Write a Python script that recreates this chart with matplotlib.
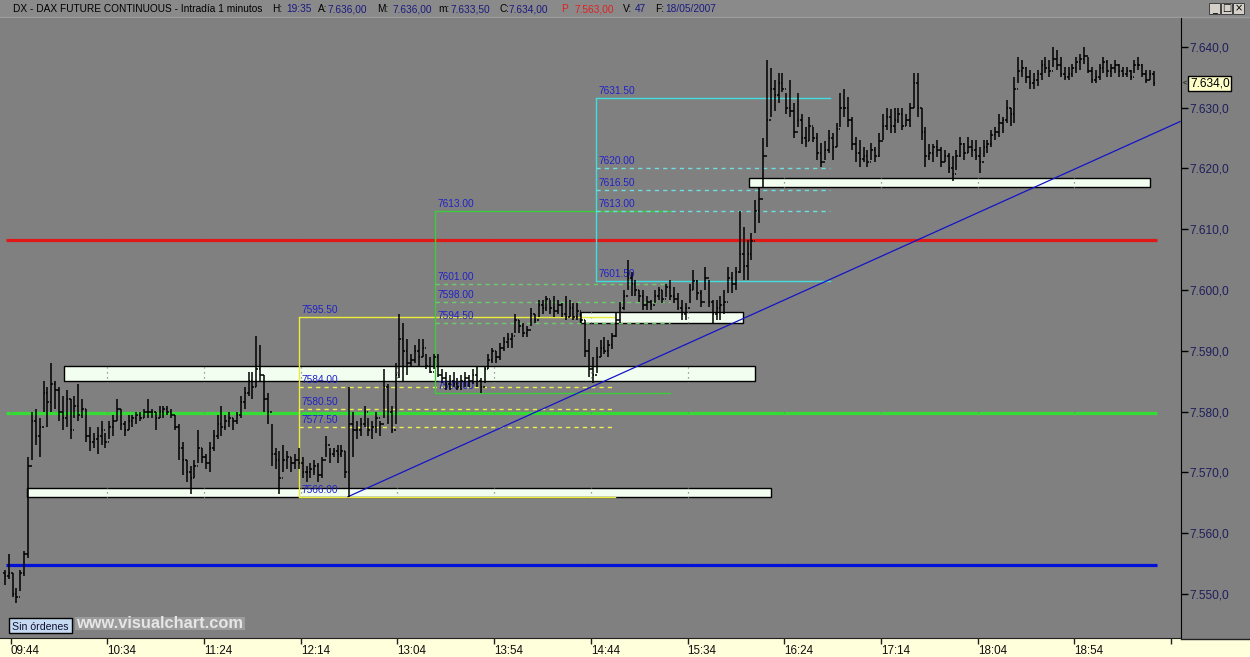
import matplotlib
matplotlib.use("Agg")
import matplotlib.pyplot as plt
from matplotlib.collections import LineCollection
from matplotlib.patches import Rectangle
from matplotlib.lines import Line2D

plt.rcParams['font.family'] = ['Liberation Sans', 'DejaVu Sans']

# ------------------------------------------------------------------ data
time_tick_minutes = [0, 50, 100, 150, 200, 250, 300, 350, 400, 450, 500, 550, 600]
time_tick_labels = ['09:44', '10:34', '11:24', '12:14', '13:04', '13:54', '14:44',
                    '15:34', '16:24', '17:14', '18:04', '18:54', '']
price_ticks = [7550, 7560, 7570, 7580, 7590, 7600, 7610, 7620, 7630, 7640]

first_bar_minute = -3      # minutes after 09:44
bar_step_minutes = 2
first_open = 7553.5

highs = [
    7554, 7556.5, 7553.5, 7551, 7554, 7557, 7572.5, 7580, 7580.5, 7579,
    7585, 7584, 7588, 7585, 7584, 7582.5, 7583.5, 7582, 7582.5, 7584.5,
    7582, 7580.5, 7577.5, 7576.5, 7577.5, 7578.5, 7576.5, 7578.5, 7579.5, 7582,
    7580.5, 7578.5, 7579.5, 7579.5, 7580, 7580, 7580.5, 7582, 7580.5, 7580,
    7581, 7581, 7581, 7580.5, 7579.5, 7578, 7575, 7572, 7571, 7572,
    7577, 7574, 7573, 7575, 7577, 7579.5, 7581, 7579.5, 7580, 7579,
    7580, 7582.5, 7584, 7586.5, 7586.5, 7592.5, 7591, 7586, 7583, 7578,
    7574, 7573.5, 7574.5, 7573.5, 7572.5, 7573, 7574, 7572.5, 7571, 7571.5,
    7572, 7571.5, 7572.5, 7576, 7574, 7574, 7574.5, 7574.5, 7573.5, 7584,
    7580, 7578.5, 7579, 7581, 7579, 7578.5, 7580, 7578.5, 7587, 7584.5,
    7581, 7588, 7596, 7594.5, 7592, 7589.5, 7591, 7592, 7592, 7589.5,
    7589, 7589.5, 7589.5, 7587, 7586.5, 7586, 7586.5, 7585.5, 7586, 7586.5,
    7586, 7587, 7587.5, 7585.5, 7587.5, 7589.5, 7590.5, 7590, 7591.3, 7592.3,
    7593, 7593, 7596, 7595, 7594.5, 7594, 7597, 7596, 7598.3, 7598.3,
    7599, 7598.3, 7599, 7598.3, 7597.8, 7599, 7598.3, 7597.8, 7597.8, 7596.2,
    7595, 7592, 7589, 7590.6, 7591.8, 7592.3, 7591.8, 7593, 7596.2, 7598,
    7600, 7605, 7603, 7601.6, 7600, 7600, 7599, 7598.3, 7600, 7600.5,
    7600, 7601, 7601.6, 7600.5, 7599.5, 7598.3, 7597.8, 7601, 7603.3, 7601.6,
    7600, 7603.8, 7601.6, 7598.3, 7598.3, 7599, 7600, 7603.8, 7603, 7603.8,
    7613, 7610.4, 7608.2, 7609.4, 7614.8, 7617, 7625, 7637.8, 7636.5, 7634.5,
    7635.7, 7635.7, 7632.4, 7634.5, 7630.7, 7632.4, 7629, 7626.8, 7628.5, 7626.8,
    7625.8, 7624.2, 7624.5, 7626.3, 7625.8, 7627.5, 7632.4, 7633, 7631.8, 7628.5,
    7625.2, 7624.7, 7623.5, 7623, 7624.2, 7623.5, 7625.8, 7629, 7630, 7629.7,
    7630, 7630, 7630, 7629, 7630.7, 7635.7, 7635.7, 7630, 7626.8, 7624,
    7624, 7624.7, 7623.5, 7623, 7622.5, 7622, 7623, 7625.2, 7624.2, 7625.2,
    7624.7, 7624.7, 7623.5, 7624.7, 7624.7, 7626.3, 7626.8, 7629, 7628.5, 7631.2,
    7630, 7635, 7638.3, 7637.8, 7636.7, 7636.2, 7635.7, 7636.2, 7637.8, 7638.3,
    7637.8, 7640, 7639.5, 7638.3, 7636.7, 7636.7, 7637.2, 7638.3, 7638.9, 7640,
    7638.3, 7636.7, 7636.2, 7637.2, 7638.3, 7637.8, 7637.2, 7637.8, 7637.2, 7636.7,
    7636.7, 7636.2, 7637.8, 7638.3, 7637.2, 7636.2, 7636.2, 7636,
]
lows = [
    7551.5, 7552.5, 7549.5, 7548.5, 7550.5, 7553, 7556, 7572, 7574.5, 7572.5,
    7580, 7577.5, 7580, 7580.5, 7578.5, 7577, 7577.5, 7575.5, 7579, 7578.5,
    7579, 7575, 7573.5, 7574, 7573, 7574.5, 7574, 7575.5, 7576, 7578.5,
    7577, 7576, 7577, 7577.5, 7578, 7578.5, 7579, 7579, 7579, 7577,
    7579, 7579, 7579.5, 7579, 7577, 7572, 7569.5, 7568.5, 7566.5, 7569,
    7571.5, 7571.5, 7570.5, 7570, 7573.5, 7575.5, 7576, 7577, 7577.5, 7577,
    7578, 7579, 7580.5, 7582.5, 7582, 7584, 7585, 7580, 7578, 7571,
    7570.5, 7566.5, 7570, 7570.5, 7570, 7570.5, 7570.5, 7569, 7568.5, 7569,
    7569.5, 7568.5, 7569, 7572.5, 7571.5, 7572.5, 7571.5, 7572.5, 7569, 7566,
    7572.5, 7575.5, 7576, 7577.5, 7576, 7575.5, 7576.5, 7576, 7579, 7578,
    7576.5, 7578, 7585.5, 7585, 7586, 7587.5, 7588, 7587.5, 7589, 7587,
    7586.3, 7587, 7585.7, 7584.7, 7583.5, 7583.5, 7584, 7583.5, 7583.5, 7584,
    7584, 7584.5, 7584, 7583, 7584.7, 7587, 7588, 7588, 7588.5, 7590,
    7590.5, 7590.5, 7593, 7593, 7592.3, 7592.3, 7594, 7594.5, 7595.5, 7596,
    7596.5, 7596, 7595.5, 7596, 7595.5, 7595, 7595.5, 7595, 7595, 7594.6,
    7589, 7585.7, 7584.7, 7586.4, 7589, 7589.5, 7589, 7590.3, 7592.3, 7594.6,
    7596.7, 7600, 7599, 7599, 7598, 7596.7, 7596.7, 7596.7, 7597.8, 7598.3,
    7597.8, 7598.8, 7598.3, 7597.8, 7596.7, 7595, 7595, 7597.8, 7600, 7598.3,
    7597.2, 7600, 7597.2, 7594.6, 7595, 7595, 7596, 7599.5, 7599.5, 7600,
    7602.8, 7601.6, 7601.6, 7605, 7609.4, 7611, 7617, 7623.5, 7628.5, 7629.5,
    7630.7, 7632.5, 7629, 7628.5, 7625, 7626.8, 7624, 7623.5, 7624.5, 7624.3,
    7621.4, 7620.2, 7621.4, 7622.5, 7621.4, 7623.5, 7626.8, 7628.5, 7626.8, 7623,
    7621, 7620.2, 7621, 7620.2, 7621.4, 7621, 7621.9, 7624.7, 7626.3, 7625.8,
    7625.8, 7627.5, 7626.3, 7627, 7626.8, 7630, 7628.5, 7624.7, 7620.2, 7621.4,
    7621, 7621.9, 7620.2, 7621, 7619.2, 7618, 7619.7, 7621.9, 7621.4, 7622.5,
    7621.9, 7621.4, 7619.2, 7621.9, 7622.5, 7623.5, 7624.7, 7625.2, 7625.8, 7627.5,
    7627, 7627.5, 7634, 7635, 7634, 7633, 7633, 7633.5, 7634.5, 7635.7,
    7635, 7636.7, 7636.2, 7635, 7634.5, 7634.5, 7635, 7635.7, 7636.2, 7637.2,
    7635.7, 7634, 7634, 7634.5, 7635.7, 7635, 7635, 7635.7, 7635, 7635,
    7635, 7634.5, 7635.7, 7636.2, 7635, 7634, 7634.5, 7633.5,
]
closes = [
    7553, 7553.5, 7550, 7549.5, 7553.5, 7556.5, 7571, 7578.5, 7576, 7577.5,
    7583, 7581.5, 7584.5, 7583.5, 7580, 7579, 7582, 7577, 7581, 7579.5,
    7580.5, 7576, 7575, 7575.5, 7576, 7577, 7575, 7577.5, 7578.5, 7580.5,
    7578, 7577, 7578.5, 7579, 7579.5, 7579, 7580, 7580, 7580, 7579,
    7580, 7580.5, 7580, 7579.5, 7577.5, 7574, 7572, 7570, 7569, 7571,
    7574, 7572.5, 7571.5, 7574, 7576, 7578, 7577.5, 7578.5, 7579, 7578.5,
    7579.5, 7581.5, 7583, 7585, 7584, 7587, 7586, 7582, 7580, 7573,
    7572, 7569, 7572, 7572.5, 7571.5, 7572, 7571.5, 7570, 7570, 7570.5,
    7571, 7569.5, 7572, 7574.5, 7573, 7573.5, 7573, 7573.5, 7570, 7578,
    7577, 7577, 7578, 7580, 7577, 7577.5, 7579, 7578, 7584, 7580,
    7577, 7586, 7592, 7590, 7588, 7588.5, 7590, 7589, 7590.5, 7587.5,
    7586.5, 7589, 7586, 7585.5, 7584.5, 7585, 7584.5, 7584, 7585, 7585.5,
    7585, 7586, 7585, 7584, 7587, 7588.5, 7590, 7589, 7590.5, 7591.5,
    7592, 7592.5, 7595, 7594, 7593, 7593.5, 7596, 7595, 7597.5, 7597,
    7598.5, 7597, 7596.5, 7597.5, 7596, 7595.5, 7597, 7595.5, 7596.5, 7595,
    7590, 7587, 7586, 7589, 7590.5, 7590, 7591, 7592.5, 7595, 7597,
    7599, 7602, 7601, 7600, 7599, 7597.5, 7598, 7597.5, 7599, 7600,
    7598.5, 7600.5, 7599, 7598.5, 7597, 7596, 7597, 7600, 7601.5, 7599.5,
    7598, 7602, 7598, 7596, 7597, 7597.5, 7598, 7602, 7601, 7603,
    7606, 7604, 7606, 7608, 7613, 7615, 7622, 7628, 7633, 7632,
    7634, 7633, 7630, 7629.5, 7626, 7628, 7625, 7624.5, 7627, 7625,
    7622.5, 7621, 7623, 7625, 7623.5, 7626.5, 7630, 7630, 7628, 7624,
    7622.5, 7621.5, 7622, 7621, 7623, 7622, 7624.5, 7627, 7628.5, 7627,
    7628, 7629, 7627, 7628, 7630, 7634, 7630, 7626, 7622, 7622.5,
    7623.5, 7623, 7621, 7622, 7620, 7619, 7622, 7624, 7622.5, 7623.5,
    7623, 7622, 7621, 7623.5, 7624, 7625.5, 7626, 7627.5, 7628, 7630,
    7629, 7633, 7636, 7636.5, 7635, 7634, 7634.5, 7635.5, 7637, 7636.5,
    7636, 7638, 7637, 7635.5, 7635, 7635.5, 7636.5, 7637.5, 7638, 7638.5,
    7636, 7634.5, 7635, 7636.5, 7637.5, 7636, 7636.5, 7637, 7636, 7635.5,
    7636, 7635, 7637, 7637, 7635.5, 7634.5, 7635.5, 7634,
]

# horizontal reference levels (red, green, blue)
level_prices = [7608.2, 7579.7, 7554.8]
level_colors = ['#e01818', '#33dd33', '#0010d8']
level_start_min, level_end_min = -2.5, 592.5

# support / resistance zones
zone_start_min = [27.6, 8.4, 294.4, 381.7]
zone_end_min = [384.8, 393.1, 378.6, 589.1]
zone_low = [7585.0, 7566.0, 7594.6, 7617.0]
zone_high = [7587.5, 7567.5, 7596.4, 7618.5]

# projection boxes
box_start_min = [149.1, 219.4, 302.6]
box_end_min = [312.5, 340.9, 423.6]
box_top = [7595.5, 7613.0, 7631.5]
box_bottom = [7566.0, 7583.0, 7601.5]
box_inner_levels = [[7584.0, 7580.5, 7577.5],
                    [7601.0, 7598.0, 7594.5],
                    [7620.0, 7616.5, 7613.0]]
box_colors = ['#ecec3c', '#3ccc3c', '#40dede']
box_dash_colors = ['#f0f050', '#6ccc6c', '#70dede']

# trend line
trend_minutes = [174.4, 604.6]
trend_prices = [7566.0, 7627.7]

# header bar pieces (x pixel, text, colour)
header_pieces = [
    (13, 'DX - DAX FUTURE CONTINUOUS - Intradía 1 minutos', '#000000'),
    (272, 'H:', '#000000'), (286, '19:35', '#1a1a80'),
    (318, 'A:', '#000000'), (328, '7.636,00', '#1a1a80'),
    (377, 'M:', '#000000'), (393, '7.636,00', '#1a1a80'),
    (438, 'm:', '#000000'), (451, '7.633,50', '#1a1a80'),
    (500, 'C:', '#000000'), (509, '7.634,00', '#1a1a80'),
    (561, 'P', '#e02020'), (575, '7.563,00', '#e02020'),
    (623, 'V:', '#000000'), (635, '47', '#1a1a80'),
    (655, 'F:', '#000000'), (665, '18/05/2007', '#1a1a80'),
]

# ------------------------------------------------------------------ figure
W, H, DPI = 1250, 657, 100
BG = '#808080'
fig = plt.figure(figsize=(W / DPI, H / DPI), dpi=DPI, facecolor=BG)


def fx(px):
    return px / W


def fy(py):
    return 1 - py / H


AX_L, AX_R, AX_T, AX_B = 0, 1181, 18, 638
ax = fig.add_axes([fx(AX_L), fy(AX_B), fx(AX_R - AX_L), (AX_B - AX_T) / H])
ax.set_facecolor(BG)
ax.set_xlim(-5.5, 605.1)
ax.set_ylim(7542.76, 7644.74)

# bottom time strip and header bar (figure level, behind the axes)
fig.patches.append(Rectangle((0, 0), 1, fy(638.5), transform=fig.transFigure,
                             facecolor='#ffffdc', edgecolor='none', zorder=-2))
fig.lines.append(Line2D([fx(AX_R), 1], [fy(638.5), fy(638.5)], transform=fig.transFigure,
                        color='#202020', lw=1, zorder=-1))
fig.patches.append(Rectangle((0, fy(17)), 1, 17 / H, transform=fig.transFigure,
                             facecolor='#8a8a8a', edgecolor='none', zorder=-2))
fig.lines.append(Line2D([0, 1], [fy(17), fy(17)], transform=fig.transFigure,
                        color='#9c9c9c', lw=1, zorder=-1))
for xp, txt, col in header_pieces:
    fig.text(fx(xp), fy(12), txt, color=col, fontsize=7.3, ha='left', va='baseline')

# window buttons
for bx, sym in zip([1209, 1221, 1233], ['_', '□', '×']):
    fig.patches.append(Rectangle((fx(bx), fy(14)), fx(11), 11 / H, transform=fig.transFigure,
                                 facecolor='#d4d0c8', edgecolor='#404040', lw=0.7, zorder=3))
    fig.text(fx(bx + 5.5), fy(8.5), sym, fontsize=7, ha='center', va='center',
             color='black', family=['DejaVu Sans'], zorder=4)

# zones
for s, e, lo, hi in zip(zone_start_min, zone_end_min, zone_low, zone_high):
    ax.add_patch(Rectangle((s, lo), e - s, hi - lo, facecolor='#f2fff0',
                           edgecolor='black', lw=1, zorder=3))

# dotted vertical grid (only visible over the light zones)
for t in time_tick_minutes:
    ax.axvline(t, color=BG, ls=(0, (1, 3)), lw=0.9, zorder=3.5)

# horizontal levels
for p, c in zip(level_prices, level_colors):
    ax.hlines(p, level_start_min, level_end_min, colors=c, lw=2.3, zorder=2)

# projection boxes
for s, e, top, bot, inner, c, dc in zip(box_start_min, box_end_min, box_top, box_bottom,
                                        box_inner_levels, box_colors, box_dash_colors):
    ax.plot([s, s], [bot, top], color=c, lw=1, zorder=4, solid_capstyle='butt')
    ax.plot([s, e], [top, top], color=c, lw=1, zorder=4)
    ax.plot([s, e], [bot, bot], color=c, lw=1, zorder=4)
    for lvl in inner:
        ax.plot([s, e], [lvl, lvl], color=dc, lw=1, ls=(0, (3, 3)), zorder=4)
    for lvl in [top] + inner + [bot]:
        ax.annotate(f'{lvl:.2f}', xy=(s, lvl), xytext=(3, 4), textcoords='offset pixels',
                    color='#2222c8', fontsize=7.3, ha='left', va='baseline', zorder=5)

# trend line
ax.plot(trend_minutes, trend_prices, color='#1414c8', lw=0.9, zorder=5)

# OHLC bars
n = len(closes)
times = [first_bar_minute + bar_step_minutes * i for i in range(n)]
opens = [first_open] + closes[:-1]
tw = 0.8
segs = []
for t, o, h, l, c in zip(times, opens, highs, lows, closes):
    segs.append([(t, l), (t, h)])
    segs.append([(t - tw, o), (t, o)])
    segs.append([(t, c), (t + tw, c)])
ax.add_collection(LineCollection(segs, colors='black', linewidths=1.1, zorder=6))

# axes styling
for sp in ['left', 'top']:
    ax.spines[sp].set_visible(False)
ax.spines['right'].set_color('black')
ax.spines['bottom'].set_color('#202020')
ax.yaxis.tick_right()
ax.set_yticks(price_ticks)


def fmt_price(p):
    return f'{p:,.1f}'.replace(',', 'X').replace('.', ',').replace('X', '.')


ax.set_yticklabels([fmt_price(p) for p in price_ticks])
ax.tick_params(axis='y', direction='out', length=5, width=1, color='black',
               labelcolor='#1e1e5c', labelsize=8.6, pad=1)
ax.set_xticks(time_tick_minutes)
ax.set_xticklabels(time_tick_labels)
for lab in ax.get_xticklabels():
    lab.set_ha('left')
ax.tick_params(axis='x', direction='out', length=4, width=1, color='#202020',
               labelcolor='#101010', labelsize=8.4, pad=1)

# last price tag
ax.annotate(fmt_price(closes[-1]), xy=(1, closes[-1]), xycoords=('axes fraction', 'data'),
            xytext=(9, 0), textcoords='offset pixels', ha='left', va='center',
            fontsize=8.6, color='black', annotation_clip=False,
            bbox=dict(boxstyle='square,pad=0.15', facecolor='#ffffc8', edgecolor='black', lw=1))
ax.annotate('<', xy=(1, closes[-1]), xycoords=('axes fraction', 'data'), xytext=(2, 0),
            textcoords='offset pixels', ha='left', va='center', fontsize=5,
            annotation_clip=False)

# bottom-left labels
fig.patches.append(Rectangle((fx(9), fy(633)), fx(63), 15 / H, transform=fig.transFigure,
                             facecolor='#c6daf2', edgecolor='black', lw=1, zorder=5))
fig.text(fx(11.5), fy(629.5), 'Sin órdenes', fontsize=7.6, color='#101030',
         ha='left', va='baseline', zorder=6)
fig.patches.append(Rectangle((fx(75), fy(630)), fx(170), 13 / H, transform=fig.transFigure,
                             facecolor='#9c9c9c', edgecolor='none', zorder=5))
fig.text(fx(76), fy(628.5), 'www.visualchart.com', fontsize=11.8, weight='bold',
         color='#e6e6e6', ha='left', va='baseline', zorder=6)

fig.savefig('out.png', dpi=DPI, facecolor=BG)
